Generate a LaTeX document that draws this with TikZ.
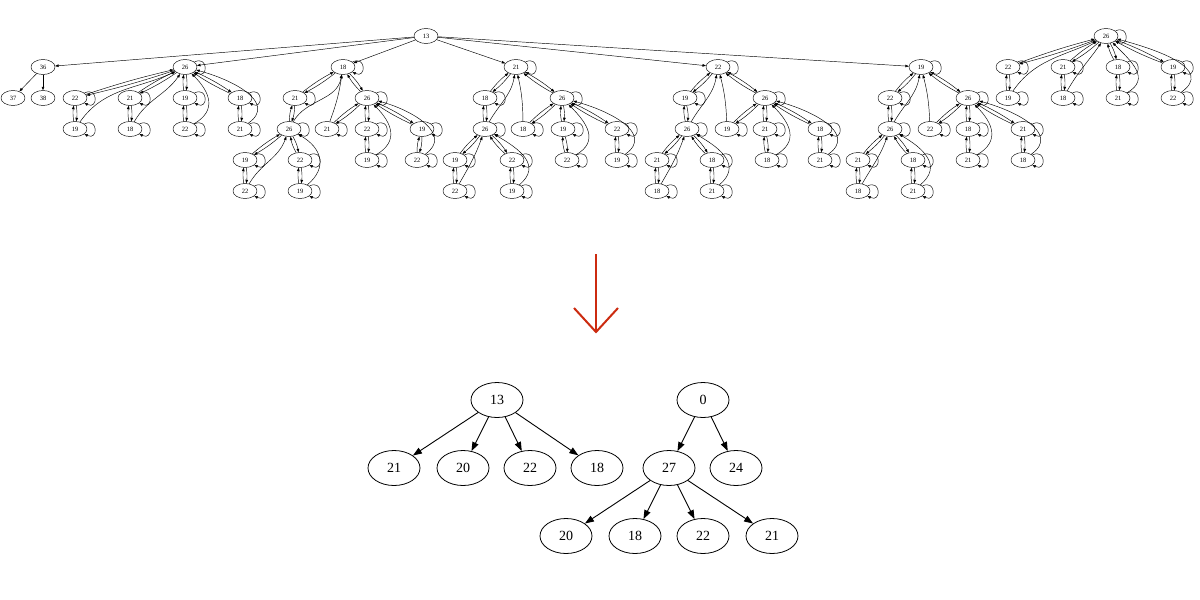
\documentclass[tikz,border=0pt]{standalone}
\usepackage{fontspec}
\setmainfont{Liberation Serif}
\usetikzlibrary{arrows.meta,calc,shapes.geometric}
\definecolor{arrowred}{RGB}{204,43,16}
\tikzset{
  tnode/.style={ellipse, draw, line width=0.45pt, minimum width=24pt, minimum height=15pt, inner sep=0pt, font=\fontsize{6.5}{7}\selectfont},
  bnode/.style={ellipse, draw, line width=0.8pt, minimum width=52pt, minimum height=35pt, inner sep=0pt, font=\fontsize{14}{16}\selectfont},
  tedge/.style={-{Triangle[length=3.5pt,width=2.6pt]}, line width=0.45pt},
  bedge/.style={-{Triangle[length=9pt,width=6.5pt]}, line width=0.9pt},
  redline/.style={draw=arrowred, line width=2pt}
}
\newcommand{\selfloop}[1]{\draw[tedge] (#1.28) .. controls +(14pt,7pt) and +(14pt,-7pt) .. (#1.-28);}
\newcommand{\biedge}[2]{%
  \draw[tedge] let \p1=($(#1)-(#2)$), \n1={min(12,280/veclen(\x1,\y1))} in (#1) to[bend left=\n1] (#2);%
  \draw[tedge] let \p1=($(#1)-(#2)$), \n1={min(12,280/veclen(\x1,\y1))} in (#2) to[bend left=\n1] (#1);}
\newcommand{\edgesA}[1]{%
  \foreach \s in {R,c1,c2,c3,c4,g1,g2,g3,g4}{\selfloop{#1\s}}%
  \biedge{#1R}{#1c1}\biedge{#1R}{#1c2}\biedge{#1R}{#1c3}\biedge{#1R}{#1c4}%
  \biedge{#1c1}{#1g1}\biedge{#1c2}{#1g2}\biedge{#1c3}{#1g3}\biedge{#1c4}{#1g4}%
  \draw[tedge] (#1g1) to[out=55,in=-155] (#1R);%
  \draw[tedge] (#1g2) to[out=60,in=-125] (#1R);%
  \draw[tedge] (#1g3) to[out=30,in=-45,looseness=1.35] (#1R);%
  \draw[tedge] (#1g4) to[out=35,in=-15,looseness=1.25] (#1R);}
\newcommand{\edgesB}[1]{%
  \foreach \s in {R,L1,L2,a,aa,b,bb,M,m1,m2,mm2,m3,mm3}{\selfloop{#1\s}}%
  \biedge{#1R}{#1L1}\biedge{#1L1}{#1L2}\biedge{#1L2}{#1a}\biedge{#1a}{#1aa}\biedge{#1L2}{#1b}\biedge{#1b}{#1bb}%
  \biedge{#1R}{#1M}\biedge{#1M}{#1m1}\biedge{#1M}{#1m2}\biedge{#1m2}{#1mm2}\biedge{#1M}{#1m3}\biedge{#1m3}{#1mm3}%
  \draw[tedge] (#1L2) to[out=60,in=-100] (#1R);%
  \draw[tedge] (#1m1) to[bend right=6] (#1R);%
  \draw[tedge] (#1aa) to[out=60,in=-110] (#1L2);%
  \draw[tedge] (#1bb) to[out=40,in=-30,looseness=1.35] (#1L2);%
  \draw[tedge] (#1mm2) to[out=30,in=-45,looseness=1.35] (#1M);%
  \draw[tedge] (#1mm3) to[out=35,in=-15,looseness=1.25] (#1M);}
\begin{document}
\begin{tikzpicture}[x=1pt,y=1pt]
\useasboundingbox[fill=white] (0,0) rectangle (1200,-600);
% ---------- top graph ----------
\node[tnode] (r13) at (426,-36) {13};
\node[tnode] (n36) at (43,-67) {36};
\node[tnode] (n37) at (13,-98) {37};
\node[tnode] (n38) at (43,-98) {38};
% pattern A, left
\node[tnode] (A1R) at (185,-67) {26};
\node[tnode] (A1c1) at (75,-98) {22};
\node[tnode] (A1g1) at (75,-129) {19};
\node[tnode] (A1c2) at (130,-98) {21};
\node[tnode] (A1g2) at (130,-129) {18};
\node[tnode] (A1c3) at (185,-98) {19};
\node[tnode] (A1g3) at (185,-129) {22};
\node[tnode] (A1c4) at (240,-98) {18};
\node[tnode] (A1g4) at (240,-129) {21};
% pattern A, right
\node[tnode] (A2R) at (1106,-36) {26};
\node[tnode] (A2c1) at (1008,-67) {22};
\node[tnode] (A2g1) at (1008,-98) {19};
\node[tnode] (A2c2) at (1063,-67) {21};
\node[tnode] (A2g2) at (1063,-98) {18};
\node[tnode] (A2c3) at (1118,-67) {18};
\node[tnode] (A2g3) at (1118,-98) {21};
\node[tnode] (A2c4) at (1173,-67) {19};
\node[tnode] (A2g4) at (1173,-98) {22};
% pattern B1 (18)
\node[tnode] (B1R) at (343,-67) {18};
\node[tnode] (B1L1) at (295,-98) {21};
\node[tnode] (B1L2) at (289,-129) {26};
\node[tnode] (B1a) at (245,-160) {19};
\node[tnode] (B1aa) at (245,-191) {22};
\node[tnode] (B1b) at (300,-160) {22};
\node[tnode] (B1bb) at (300,-191) {19};
\node[tnode] (B1M) at (367,-98) {26};
\node[tnode] (B1m1) at (327,-129) {21};
\node[tnode] (B1m2) at (367,-129) {22};
\node[tnode] (B1mm2) at (367,-160) {19};
\node[tnode] (B1m3) at (422,-129) {19};
\node[tnode] (B1mm3) at (417,-160) {22};
% pattern B2 (21)
\node[tnode] (B2R) at (516,-67) {21};
\node[tnode] (B2L1) at (485,-98) {18};
\node[tnode] (B2L2) at (485,-129) {26};
\node[tnode] (B2a) at (455,-160) {19};
\node[tnode] (B2aa) at (455,-191) {22};
\node[tnode] (B2b) at (512,-160) {22};
\node[tnode] (B2bb) at (512,-191) {19};
\node[tnode] (B2M) at (562,-98) {26};
\node[tnode] (B2m1) at (523,-129) {18};
\node[tnode] (B2m2) at (563,-129) {19};
\node[tnode] (B2mm2) at (567,-160) {22};
\node[tnode] (B2m3) at (617,-129) {22};
\node[tnode] (B2mm3) at (617,-160) {19};
% pattern B3 (22)
\node[tnode] (B3R) at (718,-67) {22};
\node[tnode] (B3L1) at (685,-98) {19};
\node[tnode] (B3L2) at (687,-129) {26};
\node[tnode] (B3a) at (657,-160) {21};
\node[tnode] (B3aa) at (657,-191) {18};
\node[tnode] (B3b) at (712,-160) {18};
\node[tnode] (B3bb) at (712,-191) {21};
\node[tnode] (B3M) at (765,-98) {26};
\node[tnode] (B3m1) at (727,-129) {19};
\node[tnode] (B3m2) at (765,-129) {21};
\node[tnode] (B3mm2) at (767,-160) {18};
\node[tnode] (B3m3) at (820,-129) {18};
\node[tnode] (B3mm3) at (820,-160) {21};
% pattern B4 (19)
\node[tnode] (B4R) at (921,-67) {19};
\node[tnode] (B4L1) at (890,-98) {22};
\node[tnode] (B4L2) at (890,-129) {26};
\node[tnode] (B4a) at (858,-160) {21};
\node[tnode] (B4aa) at (858,-191) {18};
\node[tnode] (B4b) at (913,-160) {18};
\node[tnode] (B4bb) at (913,-191) {21};
\node[tnode] (B4M) at (968,-98) {26};
\node[tnode] (B4m1) at (930,-129) {22};
\node[tnode] (B4m2) at (968,-129) {18};
\node[tnode] (B4mm2) at (968,-160) {21};
\node[tnode] (B4m3) at (1023,-129) {21};
\node[tnode] (B4mm3) at (1023,-160) {18};
% edges from root
\draw[tedge] (r13) -- (n36);
\draw[tedge] (r13) -- (A1R);
\draw[tedge] (r13) -- (B1R);
\draw[tedge] (r13) -- (B2R);
\draw[tedge] (r13) -- (B3R);
\draw[tedge] (r13) -- (B4R);
\draw[tedge] (n36) -- (n37);
\draw[tedge] (n36) -- (n38);
\edgesA{A1}
\edgesA{A2}
\edgesB{B1}
\edgesB{B2}
\edgesB{B3}
\edgesB{B4}
% ---------- red arrow ----------
\coordinate (rt) at (596,-254);
\coordinate (rtip) at (596,-332);
\coordinate (rl) at (574,-308);
\coordinate (rr) at (618,-308);
\draw[redline] (rt) -- (rtip);
\draw[redline] (rl) -- (rtip) -- (rr);
% ---------- bottom graphs ----------
\node[bnode] (b13) at (497,-400) {13};
\node[bnode] (b21) at (394,-468) {21};
\node[bnode] (b20) at (463,-468) {20};
\node[bnode] (b22) at (530,-468) {22};
\node[bnode] (b18) at (597,-468) {18};
\node[bnode] (b0) at (703,-400) {0};
\node[bnode] (b27) at (669,-468) {27};
\node[bnode] (b24) at (736,-468) {24};
\node[bnode] (c20) at (566,-536) {20};
\node[bnode] (c18) at (635,-536) {18};
\node[bnode] (c22) at (703,-536) {22};
\node[bnode] (c21) at (772,-536) {21};
\foreach \t in {b21,b20,b22,b18}{\draw[bedge] (b13) -- (\t);}
\foreach \t in {b27,b24}{\draw[bedge] (b0) -- (\t);}
\foreach \t in {c20,c18,c22,c21}{\draw[bedge] (b27) -- (\t);}
\end{tikzpicture}
\end{document}
